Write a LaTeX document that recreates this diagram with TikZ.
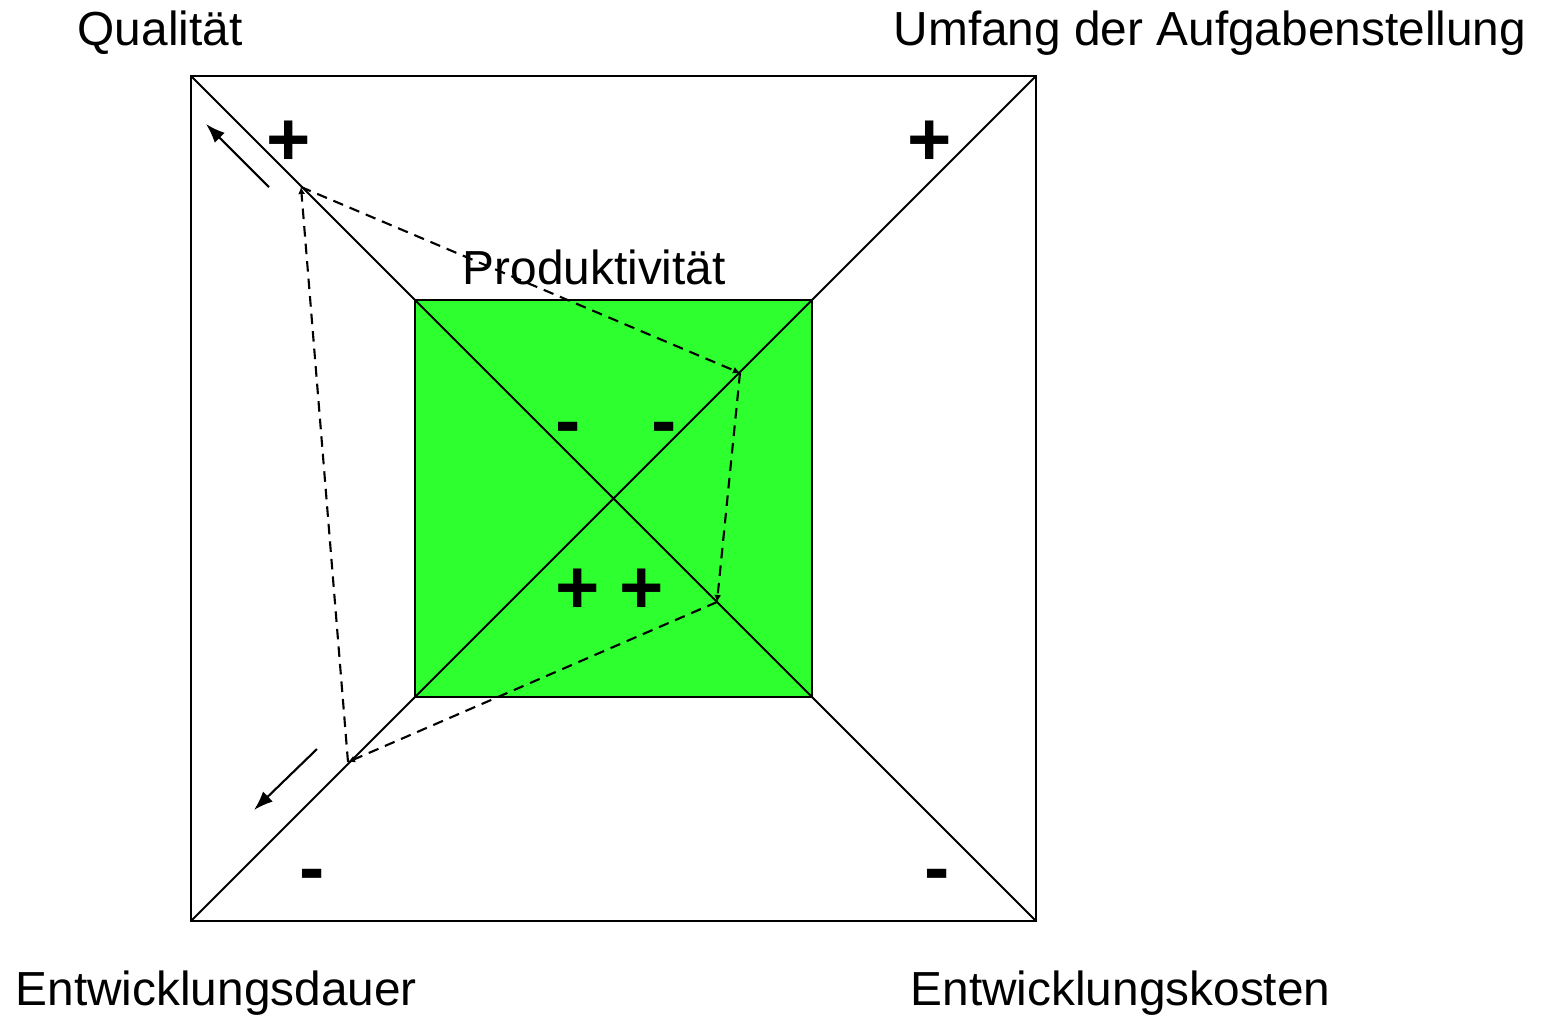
\documentclass[tikz,border=0pt]{standalone}
\usepackage{fontspec}
\setmainfont{Liberation Sans}
\usepackage{xcolor}
\usetikzlibrary{arrows.meta,positioning,calc}

\definecolor{prodgreen}{RGB}{46,255,46}

\begin{document}
\begin{tikzpicture}[>={Latex[length=5.5pt,width=4pt]},
  lbl/.style={font=\fontsize{13.6pt}{16pt}\selectfont,inner sep=0pt,anchor=base west},
  sgn/.style={font=\fontsize{21.6pt}{24pt}\selectfont\bfseries,inner sep=0pt,anchor=base},
  dsh/.style={dash pattern=on 3pt off 2pt,line width=0.6pt,-{Latex[length=2pt,width=2pt]}}]
  \useasboundingbox (0,0) rectangle (15.46,-10.15);
  % Ecken aussen und innen
  \coordinate (A) at (1.91,-0.76);  \coordinate (B) at (10.36,-0.76);
  \coordinate (C) at (10.36,-9.21); \coordinate (D) at (1.91,-9.21);
  \coordinate (a) at (4.15,-3.00);  \coordinate (b) at (8.12,-3.00);
  \coordinate (c) at (8.12,-6.97);  \coordinate (d) at (4.15,-6.97);
  \fill[prodgreen] (a) rectangle (c);
  \draw[line width=0.65pt] (A) rectangle (C);
  \draw[line width=0.55pt] (A)--(C) (B)--(D);
  \draw[line width=0.55pt] (a) rectangle (c);
  % Profil (gestrichelt)
  \coordinate (p1) at (3.01,-1.87); \coordinate (p2) at (7.40,-3.73);
  \coordinate (p3) at (7.17,-6.02); \coordinate (p4) at (3.48,-7.62);
  \draw[dsh] (p1)--(p2);
  \draw[dsh] (p2)--(p3);
  \draw[dsh] (p3)--(p4);
  \draw[dsh] (p4)--(p1);
  % Pfeile
  \coordinate (q1) at (2.69,-1.87); \coordinate (q2) at (2.06,-1.24);
  \coordinate (e1) at (3.17,-7.49); \coordinate (e2) at (2.54,-8.10);
  \draw[->,line width=0.6pt] (q1)--(q2);
  \draw[->,line width=0.6pt] (e1)--(e2);
  % Beschriftung
  \node[lbl] (qual) at (0.77,-0.45) {Qualität};
  \node[lbl] (umf) at (8.93,-0.45) {Umfang der Aufgabenstellung};
  \node[lbl] (dauer) at (0.15,-10.05) {Entwicklungsdauer};
  \node[lbl] (kost) at (9.10,-10.05) {Entwicklungskosten};
  \node[lbl] (prod) at (4.62,-2.84) {Produktivität};
  \node[sgn] (s1) at (2.89,-1.65) {+};
  \node[sgn] (s2) at (9.30,-1.65) {+};
  \node[sgn] (s3) at (3.12,-8.93) {-};
  \node[sgn] (s4) at (9.37,-8.93) {-};
  \node[sgn] (s5) at (5.68,-4.46) {-};
  \node[sgn] (s6) at (6.64,-4.46) {-};
  \node[sgn] (s7) at (5.78,-6.13) {+};
  \node[sgn] (s8) at (6.42,-6.13) {+};
\end{tikzpicture}
\end{document}
